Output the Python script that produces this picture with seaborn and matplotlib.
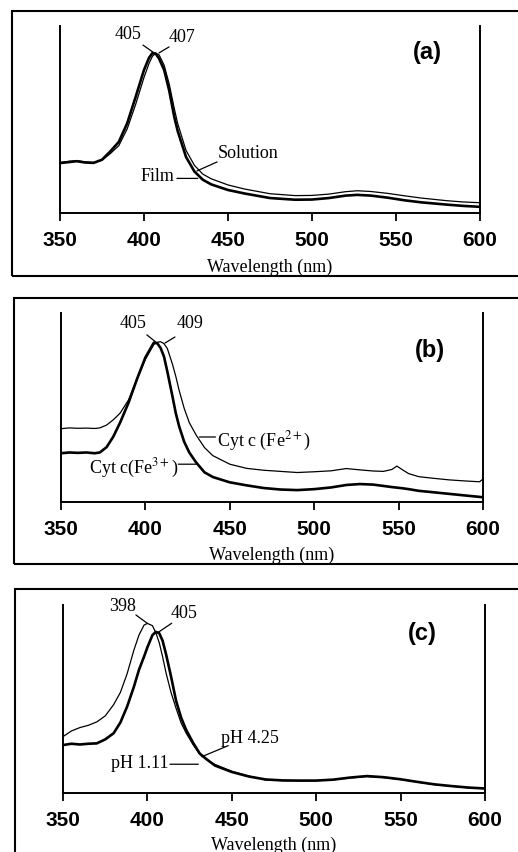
import numpy as np
import pandas as pd
import matplotlib.pyplot as plt
import seaborn as sns
from matplotlib.patches import Rectangle

# ---- panel (a): film vs solution ----
wl_a = [350, 355, 360, 365, 370, 375, 380, 385, 390, 395, 400, 403, 405, 407, 409,
        412, 415, 418, 420, 425, 430, 435, 440, 450, 460, 475, 490, 500, 510, 520,
        527, 535, 545, 555, 565, 580, 590, 600]
film_a = [.267, .272, .277, .270, .268, .285, .330, .380, .480, .620, .765, .830, .855, .852, .825,
          .765, .655, .515, .440, .300, .222, .178, .153, .123, .104, .080, .071, .072, .080, .093,
          .097, .093, .082, .068, .057, .045, .038, .033]
solution_a = [.270, .276, .280, .273, .270, .282, .318, .360, .450, .580, .725, .800, .838, .855, .845,
              .790, .690, .560, .480, .335, .255, .208, .183, .150, .128, .103, .093, .094, .101, .114,
              .119, .115, .105, .092, .080, .066, .059, .055]

# ---- panel (b): oxidised vs reduced cyt c ----
wl_b = [350, 355, 360, 365, 370, 373, 377, 381, 385, 390, 395, 400, 405, 407, 409, 411, 413,
        416, 418, 420, 423, 426, 430, 435, 440, 450, 460, 470, 480, 490, 500, 510, 519, 527,
        535, 541, 546, 549, 552, 556, 562, 570, 580, 590, 598, 600]
fe3_b = [.258, .262, .260, .262, .258, .262, .290, .346, .420, .525, .650, .765, .843, .840, .815, .770, .690,
         .560, .470, .400, .318, .262, .210, .157, .132, .104, .088, .074, .066, .063, .068, .077, .090, .095,
         .092, .085, .079, .076, .073, .068, .059, .052, .043, .034, .027, .025]
fe2_b = [.388, .392, .390, .391, .389, .392, .407, .435, .470, .540, .650, .755, .834, .845, .848, .838, .812,
         .730, .665, .590, .495, .420, .355, .288, .245, .200, .178, .168, .162, .156, .160, .165, .177, .170,
         .164, .162, .172, .190, .172, .150, .134, .126, .117, .111, .107, .122]

# ---- panel (c): pH 1.11 vs pH 4.25 ----
wl_c = [350, 355, 360, 365, 370, 375, 380, 384, 388, 392, 395, 398, 400, 403, 405, 407, 409, 411,
        414, 417, 420, 423, 427, 431, 435, 440, 450, 460, 470, 480, 490, 500, 510, 520, 530, 540,
        550, 560, 570, 580, 590, 600]
ph111_c = [.300, .330, .348, .360, .378, .410, .470, .535, .635, .760, .840, .893, .902, .890, .852, .800, .725, .640,
           .535, .450, .372, .318, .258, .207, .178, .152, .115, .090, .070, .066, .065, .066, .070, .080, .088, .082,
           .072, .058, .045, .036, .028, .023]
ph425_c = [.255, .262, .258, .262, .264, .285, .318, .375, .460, .565, .655, .725, .775, .840, .857, .850, .810, .740,
           .620, .490, .400, .335, .268, .210, .180, .146, .112, .088, .072, .067, .066, .066, .071, .082, .090, .084,
           .073, .059, .046, .037, .029, .024]

xticks = [350, 400, 450, 500, 550, 600]

sns.set_theme(style="white")
plt.rcParams["font.family"] = ["Liberation Serif", "DejaVu Serif"]
plt.rcParams["mathtext.fontset"] = "stix"
plt.rcParams["text.color"] = "black"
plt.rcParams["axes.labelcolor"] = "black"
plt.rcParams["xtick.color"] = "black"

SERIF = 13
THICK = 1.9
THIN = 0.9

fig = plt.figure(figsize=(5.18, 8.52), dpi=100)

# outer frames (right edge runs off the page in the scan)
for x0, y0, y1 in [(12, 10.5, 276), (14, 298, 564), (15, 589, 900)]:
    fig.add_artist(Rectangle((x0 / 518, 1 - y1 / 852), 1.2, (y1 - y0) / 852,
                             transform=fig.transFigure, fill=False,
                             edgecolor="black", linewidth=1.5, clip_on=False))


def make_axes(left, right, bottom, top):
    ax = fig.add_axes([left / 518, 1 - bottom / 852, (right - left) / 518, (bottom - top) / 852])
    ax.set_xlim(350, 600)
    ax.set_ylim(0, 1)
    ax.set_xticks(xticks)
    ax.set_yticks([])
    for side in ["left", "right", "bottom"]:
        ax.spines[side].set_visible(True)
        ax.spines[side].set_color("black")
        ax.spines[side].set_linewidth(1.4)
    ax.spines["top"].set_visible(False)
    ax.tick_params(axis="x", direction="out", length=6, width=1.3, color="black",
                   bottom=True, pad=7, labelsize=15)
    for lab in ax.get_xticklabels():
        lab.set_family("Liberation Sans")
        lab.set_fontweight("bold")
    ax.set_facecolor("none")
    return ax


def curve(ax, wl, vals, lw):
    df = pd.DataFrame({"wl": wl, "abs": vals})
    sns.lineplot(data=df, x="wl", y="abs", ax=ax, color="black", linewidth=lw, sort=False)


def axis_labels(ax, xlab_y):
    ax.set_xlabel("Wavelength (nm)", fontsize=SERIF, color="black")
    ax.xaxis.set_label_coords(0.5, xlab_y)
    ax.set_ylabel("Absorbance", fontsize=SERIF, color="black")
    ax.yaxis.set_label_coords(-0.023, 0.51)


def leader(ax, p0, p1):
    ax.annotate("", xy=p1, xytext=p0, annotation_clip=False,
                arrowprops=dict(arrowstyle="-", color="black", lw=0.9, shrinkA=0, shrinkB=0))


def tag(ax, x, y, s):
    ax.text(x, y, s, fontsize=17, family="Liberation Sans", fontweight="bold",
            ha="center", va="center")


# (a)
ax = make_axes(60, 480, 213, 26)
curve(ax, wl_a, solution_a, THIN)
curve(ax, wl_a, film_a, THICK)
axis_labels(ax, -0.245)
ax.text(390.5, 0.952, "405", fontsize=SERIF, ha="center", va="center")
ax.text(422.6, 0.936, "407", fontsize=SERIF, ha="center", va="center")
leader(ax, (399.4, 0.898), (406.0, 0.856))
leader(ax, (414.9, 0.888), (408.9, 0.856))
ax.text(461.9, 0.316, "Solution", fontsize=SERIF, ha="center", va="center")
leader(ax, (443.5, 0.273), (431.5, 0.225))
ax.text(408.3, 0.193, "Film", fontsize=SERIF, ha="center", va="center")
leader(ax, (419.6, 0.185), (432.0, 0.185))
tag(ax, 568.5, 0.856, "(a)")

# (b)
ax = make_axes(61, 483, 502, 313)
curve(ax, wl_b, fe2_b, THIN)
curve(ax, wl_b, fe3_b, THICK)
axis_labels(ax, -0.235)
ax.text(392.7, 0.947, "405", fontsize=SERIF, ha="center", va="center")
ax.text(426.4, 0.947, "409", fontsize=SERIF, ha="center", va="center")
leader(ax, (400.9, 0.884), (406.9, 0.841))
leader(ax, (417.5, 0.873), (411.6, 0.841))
ax.text(442.5, 0.297, "Cyt c (Fe$^{2+}$)", fontsize=SERIF, ha="left", va="baseline")
leader(ax, (432.0, 0.344), (441.5, 0.344))
ax.text(419.5, 0.152, "Cyt c(Fe$^{3+}$)", fontsize=SERIF, ha="right", va="baseline")
leader(ax, (419.5, 0.200), (430.0, 0.200))
tag(ax, 568.6, 0.804, "(b)")

# (c)
ax = make_axes(63, 485, 793, 605)
curve(ax, wl_c, ph111_c, THIN)
curve(ax, wl_c, ph425_c, THICK)
axis_labels(ax, -0.235)
ax.text(385.2, 0.992, "398", fontsize=SERIF, ha="center", va="center")
ax.text(421.7, 0.956, "405", fontsize=SERIF, ha="center", va="center")
leader(ax, (393.2, 0.947), (399.9, 0.903))
leader(ax, (414.4, 0.903), (406.5, 0.855))
ax.text(443.4, 0.266, "pH 4.25", fontsize=SERIF, ha="left", va="baseline")
leader(ax, (447.9, 0.252), (432.2, 0.193))
ax.text(412.4, 0.133, "pH 1.11", fontsize=SERIF, ha="right", va="baseline")
leader(ax, (413.4, 0.153), (430.2, 0.153))
tag(ax, 562.7, 0.851, "(c)")

fig.savefig("out.png", dpi=100, facecolor="white")
